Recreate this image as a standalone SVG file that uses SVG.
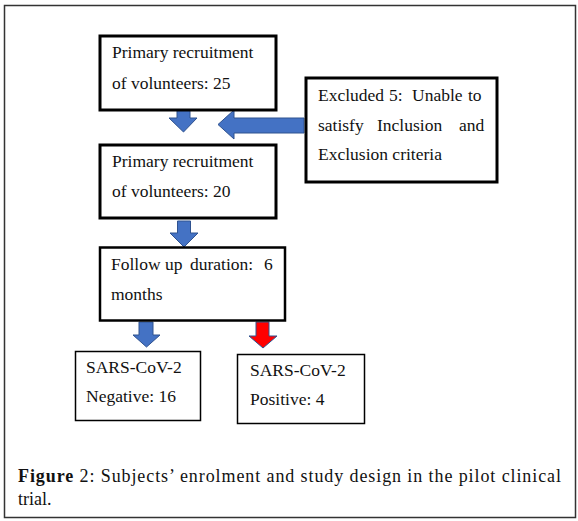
<svg xmlns="http://www.w3.org/2000/svg" width="578" height="521" viewBox="0 0 578 521">
<style>
.t{font-family:"Liberation Serif","Times New Roman",serif;font-size:17.5px;fill:#111}
.cap{font-family:"Liberation Serif","Times New Roman",serif;font-size:18px;fill:#111}
.thick{fill:#fff;stroke:#000;stroke-width:3}
.mid{fill:#fff;stroke:#000;stroke-width:2.5}
.thin{fill:#fff;stroke:#000;stroke-width:1.5}
.blue{fill:#4472C4;stroke:#2F528F;stroke-width:1}
.red{fill:#FF0000;stroke:#2F528F;stroke-width:1}
</style>
<rect x="0" y="0" width="578" height="521" fill="#fff"/>
<rect x="4.5" y="5.5" width="571" height="512" fill="none" stroke="#333" stroke-width="1.5"/>
<g id="connectors">
<path class="blue" d="M177,107 H190 V118 H197 L183.5,132 L169,118 H177 Z"/>
<path class="blue" d="M304,118 H234 V110 L218,124.5 L234,139 V133 H304 Z"/>
<path class="blue" d="M177.5,221 H190.5 V233 H198 L184,247 L170,233 H177.5 Z"/>
<path class="blue" d="M139,322 H153 V335 H160 L146.5,347 L133,335 H139 Z"/>
<path class="red" d="M256,322 H269 V336 H277 L263,348 L249,336 H256 Z"/>
</g>
<g id="box1">
<rect class="thick" x="100" y="36" width="176" height="74"/>
<text class="t" x="112" y="58">Primary recruitment</text>
<text class="t" x="112" y="89">of volunteers: 25</text>
</g>
<g id="excluded">
<rect class="thick" x="306" y="78" width="191" height="104"/>
<text class="t" y="101"><tspan x="318">Excluded</tspan><tspan x="389">5:</tspan><tspan x="412">Unable</tspan><tspan x="468">to</tspan></text>
<text class="t" y="131"><tspan x="318">satisfy</tspan><tspan x="377">Inclusion</tspan><tspan x="459">and</tspan></text>
<text class="t" x="318" y="160">Exclusion criteria</text>
</g>
<g id="box2">
<rect class="thick" x="100" y="145" width="176" height="73"/>
<text class="t" x="112" y="167">Primary recruitment</text>
<text class="t" x="112" y="197">of volunteers: 20</text>
</g>
<g id="followup">
<rect class="mid" x="100" y="247.5" width="185" height="73"/>
<text class="t" y="270"><tspan x="111">Follow</tspan><tspan x="165">up</tspan><tspan x="190">duration:</tspan><tspan x="264">6</tspan></text>
<text class="t" x="111" y="300">months</text>
</g>
<g id="negative">
<rect class="thin" x="75.5" y="351.5" width="125" height="69"/>
<text class="t" x="86" y="373">SARS-CoV-2</text>
<text class="t" x="86" y="402">Negative: 16</text>
</g>
<g id="positive">
<rect class="thin" x="237.5" y="354.5" width="127" height="69"/>
<text class="t" x="250" y="376">SARS-CoV-2</text>
<text class="t" x="250" y="405">Positive: 4</text>
</g>
<g id="caption">
<text class="cap" x="18" y="482" textLength="543" lengthAdjust="spacing"><tspan font-weight="bold">Figure</tspan> 2:  Subjects’ enrolment and study design in the pilot clinical</text>
<text class="cap" x="18" y="505">trial.</text>
</g>
</svg>
